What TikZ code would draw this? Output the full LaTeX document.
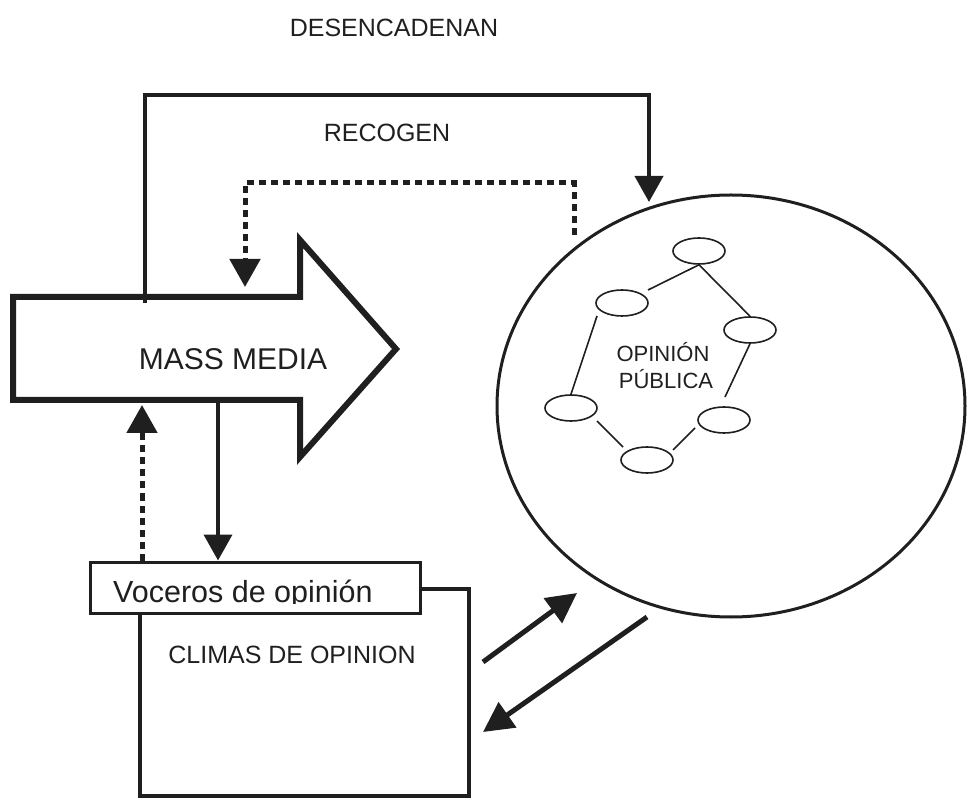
\documentclass[tikz,border=0pt]{standalone}
\usepackage{fontspec}
\setmainfont{Liberation Sans}
\usetikzlibrary{arrows.meta,shapes.geometric}
\begin{document}
\begin{tikzpicture}[x=1pt,y=-1pt,
  ink/.style={draw=black!88},
  thickline/.style={ink,line width=4pt},
  dotline/.style={ink,line width=5pt,dash pattern=on 7pt off 5pt},
  tipA/.style={-{Triangle[width=28pt,length=26pt]}},
  tipB/.style={-{Triangle[width=30pt,length=28pt]}},
  lbl/.style={inner sep=0pt,anchor=base,text=black!88,font=\fontsize{25}{30}\selectfont},
  smallell/.style={ellipse,ink,line width=1.6pt,minimum width=52pt,minimum height=26pt,inner sep=0pt},
  thin/.style={ink,line width=1.6pt}
]
\useasboundingbox (0,0) rectangle (967,799);

% titles
\node[lbl] (desen) at (394,37) {DESENCADENAN};
\node[lbl] (recog) at (387,142) {RECOGEN};

% big arrow MASS MEDIA
\coordinate (bA) at (13,297);
\coordinate (bB) at (300,297);
\coordinate (bC) at (300,240);
\coordinate (bD) at (396,349);
\coordinate (bE) at (300,457);
\coordinate (bF) at (300,400);
\coordinate (bG) at (13,400);
\draw[ink,line width=6pt,line join=miter] (bA) -- (bB) -- (bC) -- (bD) -- (bE) -- (bF) -- (bG) -- cycle;
\node[lbl,font=\fontsize{30}{36}\selectfont] (mm) at (233,370) {MASS MEDIA};

% climas box and voceros box
\node[draw,ink,line width=4.5pt,minimum width=329pt,minimum height=207pt,inner sep=0pt] (cli) at (304.5,692.5) {};
\node[lbl] (clit) at (292,663) {CLIMAS DE OPINION};
\node[draw,ink,fill=white,line width=3pt,minimum width=330pt,minimum height=51pt,inner sep=0pt] (voc) at (255,587.5) {};
\begin{scope}
  \clip (92,564) rectangle (418,603);
  \node[lbl,anchor=base west,font=\fontsize{30.5}{36}\selectfont] (voct) at (113,602) {Voceros de opinión};
\end{scope}

% public opinion
\node[ellipse,ink,line width=3pt,minimum width=468pt,minimum height=422pt,inner sep=0pt] (op) at (731,406) {};
\node[smallell] (e1) at (699,251) {};
\node[smallell] (e2) at (622,303) {};
\node[smallell] (e3) at (750,330) {};
\node[smallell] (e4) at (571,408) {};
\node[smallell] (e5) at (724,420) {};
\node[smallell] (e6) at (647,460) {};
\node[lbl,font=\fontsize{22}{27}\selectfont] (opt1) at (663,362) {OPINIÓN};
\node[lbl,font=\fontsize{22}{27}\selectfont] (opt2) at (666,389) {PÚBLICA};
\draw[thin] ([shift={(26,-13)}]e2.center) -- (e1.south);
\draw[thin] (e1.south) -- (e3.north);
\draw[thin] ([shift={(-25,13)}]e2.center) -- (e4.north);
\draw[thin] (e3.south) -- ([shift={(1,-23)}]e5.center);
\draw[thin] ([shift={(26,13)}]e4.center) -- ([shift={(-24,-13)}]e6.center);
\draw[thin] ([shift={(26,-10)}]e6.center) -- ([shift={(-29,8)}]e5.center);

% connectors
\coordinate (topL) at (145,303);
\coordinate (topC) at (145,95);
\coordinate (topR) at (649,202);
\draw[thickline,tipA,line join=miter] (topL) -- (topC) -| (topR);

\coordinate (dotS) at (574,235);
\coordinate (dotC) at (574,183);
\coordinate (dotE) at (245,287);
\draw[dotline,tipB,line join=miter] (dotS) -- (dotC) -| (dotE);

\coordinate (mmb1) at (218,400);
\coordinate (mmb2) at (142,405);
\draw[thickline,tipA] (mmb1) -- (mmb1 |- voc.north);
\draw[dotline,tipB] (mmb2 |- voc.north) -- (mmb2);

\coordinate (c1s) at (483,662);
\coordinate (c1e) at (577,593);
\coordinate (c2s) at (647,617);
\coordinate (c2e) at (483,732);
\draw[ink,line width=5pt,-{Triangle[width=30pt,length=30pt]}] (c1s) -- (c1e);
\draw[ink,line width=5pt,-{Triangle[width=30pt,length=30pt]}] (c2s) -- (c2e);
\end{tikzpicture}
\end{document}
